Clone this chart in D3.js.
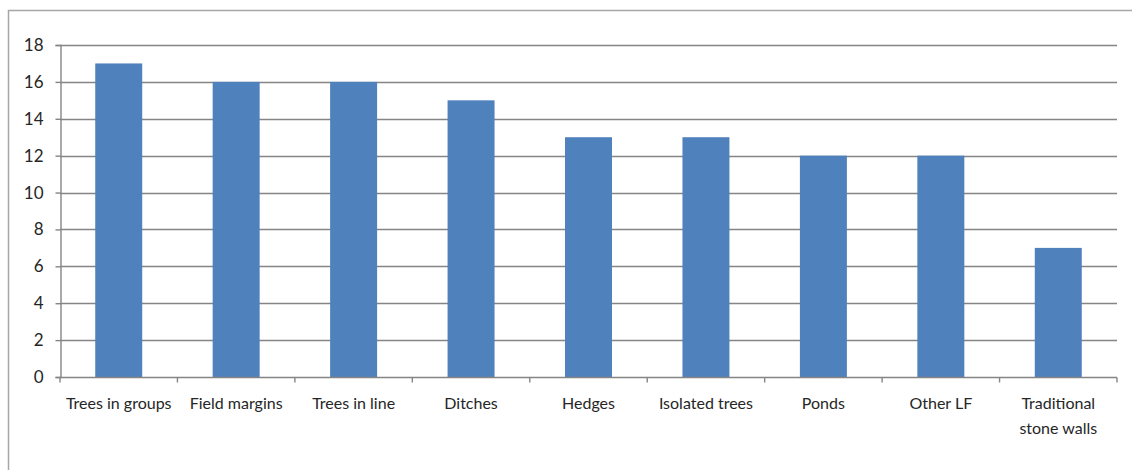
<!DOCTYPE html>
<html>
<head>
<meta charset="utf-8">
<script src="https://cdn.jsdelivr.net/npm/d3@7"></script>
<style>
  html, body { margin: 0; padding: 0; background: #fff; }
  svg { display: block; }
  text { font-family: Lato, "Open Sans", sans-serif; fill: #262626; }
</style>
</head>
<body>
<svg id="chart" width="1132" height="470"></svg>
<script>
// Landscape feature types and their counts
const categories = [
  "Trees in groups", "Field margins", "Trees in line", "Ditches", "Hedges",
  "Isolated trees", "Ponds", "Other LF", "Traditional\nstone walls"
];
const counts = [17, 16, 16, 15, 13, 13, 12, 12, 7];
const yTicks = [0, 2, 4, 6, 8, 10, 12, 14, 16, 18];

const svg = d3.select("#chart");
const W = 1132, H = 470;
const plot = { left: 60, right: 1117, top: 45, bottom: 377 };

// Outer frame (top and left edges visible)
svg.append("path")
  .attr("d", `M8.5,${H} V10.5 H${W}`)
  .attr("fill", "none").attr("stroke", "#a6a6a6").attr("stroke-width", 1.5);

const x = d3.scaleBand().domain(categories).range([plot.left, plot.right]).padding(0);
const y = d3.scaleLinear().domain([0, 18]).range([plot.bottom, plot.top]);

// Horizontal gridlines
svg.append("g").selectAll("line").data(yTicks.filter(d => d > 0)).join("line")
  .attr("x1", plot.left).attr("x2", plot.right)
  .attr("y1", d => Math.round(y(d)) + 0.5).attr("y2", d => Math.round(y(d)) + 0.5)
  .attr("stroke", "#858585").attr("stroke-width", 1.4);

// Y axis
const yAxis = svg.append("g").attr("transform", `translate(${plot.left + 0.5},0)`)
  .call(d3.axisLeft(y).tickValues(yTicks).tickSize(5).tickPadding(12));
yAxis.select(".domain").attr("stroke", "#858585").attr("stroke-width", 1.4);
yAxis.selectAll(".tick line").attr("stroke", "#858585").attr("stroke-width", 1.4);
yAxis.selectAll(".tick text").attr("font-size", 17).attr("fill", "#262626")
  .style("font-family", "Lato, 'Open Sans', sans-serif");

// Bars
const barW = x.bandwidth() * 0.4;
svg.append("g").selectAll("rect").data(categories).join("rect")
  .attr("x", (d) => x(d) + (x.bandwidth() - barW) / 2)
  .attr("width", barW)
  .attr("y", (d, i) => y(counts[i]))
  .attr("height", (d, i) => y(0) - y(counts[i]))
  .attr("fill", "#4f81bd");

// X axis baseline with ticks at category boundaries
const xAxisG = svg.append("g").attr("transform", `translate(0,${plot.bottom + 0.5})`);
xAxisG.append("line").attr("x1", plot.left).attr("x2", plot.right)
  .attr("stroke", "#858585").attr("stroke-width", 1.4);
const bounds = categories.map(c => x(c)).concat([plot.right]);
xAxisG.selectAll("line.tk").data(bounds).join("line").attr("class", "tk")
  .attr("x1", d => d).attr("x2", d => d).attr("y1", 0).attr("y2", 5)
  .attr("stroke", "#858585").attr("stroke-width", 1.4);

// Category labels
const labels = svg.append("g").selectAll("text").data(categories).join("text")
  .attr("x", d => x(d) + x.bandwidth() / 2)
  .attr("y", 409)
  .attr("text-anchor", "middle")
  .attr("font-size", 16);
labels.each(function(d) {
  const lines = d.split("\n");
  d3.select(this).selectAll("tspan").data(lines).join("tspan")
    .attr("x", x(d) + x.bandwidth() / 2)
    .attr("dy", (l, i) => i === 0 ? 0 : 25)
    .text(l => l);
});
</script>
</body>
</html>
